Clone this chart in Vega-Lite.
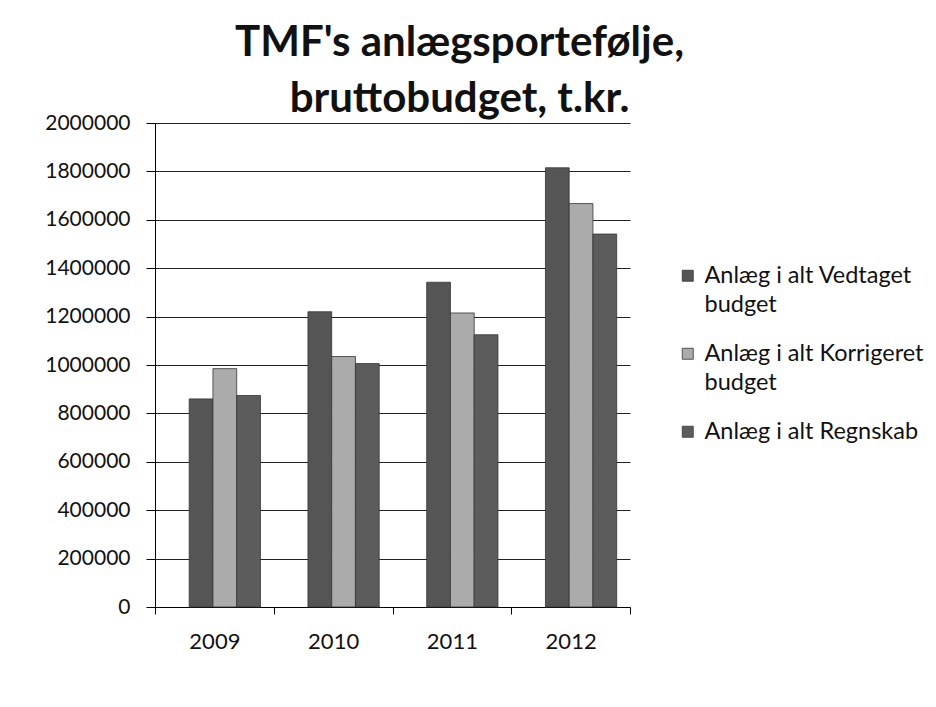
{
  "$schema": "https://vega.github.io/schema/vega-lite/v6.json",
  "width": 475,
  "height": 484,
  "autosize": "none",
  "padding": {"left": 155, "top": 123, "right": 306, "bottom": 100},
  "background": "white",
  "title": {
    "text": ["TMF's anlægsportefølje,", "bruttobudget, t.kr."],
    "font": "Lato",
    "fontSize": 42,
    "fontWeight": "bold",
    "color": "#111111",
    "anchor": "middle",
    "dx": 67,
    "offset": -9,
    "lineHeight": 56
  },
  "data": {
    "values": [
      {"year": "2009", "series": "Anlæg i alt Vedtaget budget", "value": 860000},
      {"year": "2009", "series": "Anlæg i alt Korrigeret budget", "value": 985000},
      {"year": "2009", "series": "Anlæg i alt Regnskab", "value": 874000},
      {"year": "2010", "series": "Anlæg i alt Vedtaget budget", "value": 1220000},
      {"year": "2010", "series": "Anlæg i alt Korrigeret budget", "value": 1035000},
      {"year": "2010", "series": "Anlæg i alt Regnskab", "value": 1006000},
      {"year": "2011", "series": "Anlæg i alt Vedtaget budget", "value": 1342000},
      {"year": "2011", "series": "Anlæg i alt Korrigeret budget", "value": 1215000},
      {"year": "2011", "series": "Anlæg i alt Regnskab", "value": 1125000},
      {"year": "2012", "series": "Anlæg i alt Vedtaget budget", "value": 1815000},
      {"year": "2012", "series": "Anlæg i alt Korrigeret budget", "value": 1667000},
      {"year": "2012", "series": "Anlæg i alt Regnskab", "value": 1541000}
    ]
  },
  "mark": {"type": "bar", "stroke": "#333333", "strokeWidth": 0.8},
  "encoding": {
    "x": {
      "field": "year",
      "type": "nominal",
      "scale": {"paddingInner": 0, "paddingOuter": 0},
      "axis": {
        "title": null,
        "labelAngle": 0,
        "tickBand": "extent",
        "tickSize": 7,
        "tickColor": "#000000",
        "domainColor": "#000000",
        "labelFont": "Lato",
        "labelFontSize": 22,
        "labelColor": "#111111",
        "labelPadding": 17,
        "grid": false
      }
    },
    "xOffset": {
      "field": "series",
      "type": "nominal",
      "sort": ["Anlæg i alt Vedtaget budget", "Anlæg i alt Korrigeret budget", "Anlæg i alt Regnskab"],
      "scale": {"paddingInner": 0, "paddingOuter": 1.3, "align": 0.72}
    },
    "y": {
      "field": "value",
      "type": "quantitative",
      "scale": {"domain": [0, 2000000], "nice": false},
      "axis": {
        "title": null,
        "values": [0, 200000, 400000, 600000, 800000, 1000000, 1200000, 1400000, 1600000, 1800000, 2000000],
        "format": "d",
        "grid": true,
        "gridColor": "#222222",
        "gridWidth": 1.2,
        "domainColor": "#000000",
        "tickColor": "#000000",
        "tickSize": 9,
        "labelPadding": 16,
        "labelFont": "Lato",
        "labelFontSize": 21,
        "labelColor": "#111111"
      }
    },
    "color": {
      "field": "series",
      "type": "nominal",
      "scale": {
        "domain": ["Anlæg i alt Vedtaget budget", "Anlæg i alt Korrigeret budget", "Anlæg i alt Regnskab"],
        "range": ["#555555", "#ababab", "#5c5c5c"]
      },
      "legend": {
        "title": null,
        "orient": "none",
        "legendX": 521,
        "legendY": 141,
        "symbolType": "square",
        "symbolSize": 121,
        "symbolStrokeColor": "#333333",
        "symbolStrokeWidth": 0.8,
        "labelFont": "Lato",
        "labelFontSize": 23.5,
        "labelColor": "#111111",
        "labelLimit": 300,
        "labelOffset": 5,
        "rowPadding": 24,
        "labelExpr": "datum.label == 'Anlæg i alt Vedtaget budget' ? ['Anlæg i alt Vedtaget', 'budget'] : datum.label == 'Anlæg i alt Korrigeret budget' ? ['Anlæg i alt Korrigeret', 'budget'] : datum.label",
        "encode": {
          "labels": {"update": {"lineHeight": {"value": 29}}}
        }
      }
    }
  },
  "config": {
    "view": {"stroke": null}
  }
}
